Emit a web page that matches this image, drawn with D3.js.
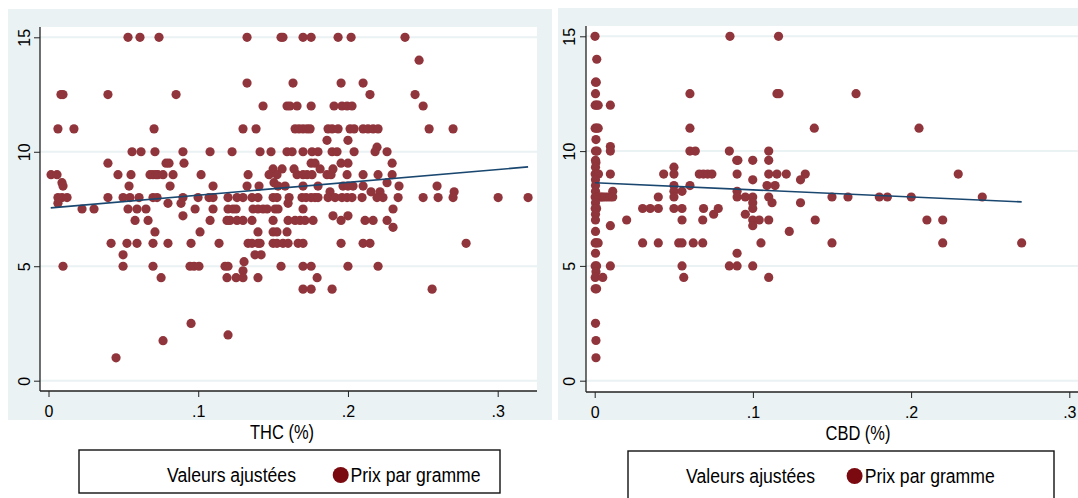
<!DOCTYPE html>
<html><head><meta charset="utf-8">
<script src="https://cdn.jsdelivr.net/npm/d3@7"></script>
<style>
body{margin:0;background:#fff}
svg{display:block}
text{font-family:"Liberation Sans Narrow","Arial Narrow","Liberation Sans",Arial,sans-serif;fill:#000}
</style>
</head><body>
<svg id="c" width="1078" height="498"></svg>
<script>
// ---------- data ----------
const priceTicks = [0, 5, 10, 15];
const xTicks = [0, 0.1, 0.2, 0.3];
const xTickLabels = ["0", ".1", ".2", ".3"];
const axisTitles = ["THC (%)", "CBD (%)"];
const legendLabels = ["Valeurs ajustées", "Prix par gramme"];

// THC panel: price levels and the THC share of every observation at that price
const thcLevels = [15, 14, 13, 12.5, 12, 11, 10.5, 10.2, 10, 9.5, 9.25, 9, 8.65, 8.5, 8.25, 8, 7.75, 7.5, 7.2, 7, 6.7, 6.5, 6, 5.5, 5.2, 5, 4.8, 4.5, 4, 2.5, 2, 1.75, 1];
const thcByLevel = [
  [0.0531, 0.0611, 0.0738, 0.1326, 0.1553, 0.1566, 0.17, 0.1754, 0.1934, 0.2021, 0.2381],
  [0.2475],
  [0.1326, 0.1633, 0.1954, 0.2101],
  [0.0083, 0.0097, 0.0397, 0.0852, 0.2147, 0.2448],
  [0.1433, 0.1593, 0.1613, 0.166, 0.1754, 0.1907, 0.196, 0.1994, 0.2027, 0.2502],
  [0.0063, 0.017, 0.0705, 0.1299, 0.1386, 0.1647, 0.1673, 0.17, 0.1727, 0.1747, 0.1867, 0.1894, 0.1934, 0.2014, 0.2041, 0.2101, 0.2134, 0.2168, 0.2201, 0.2542, 0.2702],
  [0.186, 0.2],
  [0.2194],
  [0.0558, 0.0618, 0.0711, 0.0898, 0.1079, 0.1226, 0.1413, 0.1486, 0.1593, 0.1627, 0.17, 0.176, 0.18, 0.1894, 0.1927, 0.2041, 0.2181, 0.2261],
  [0.0397, 0.0785, 0.0805, 0.0905, 0.1754, 0.178, 0.1954, 0.2, 0.2295],
  [0.15, 0.156, 0.164, 0.1814, 0.19],
  [0.0017, 0.0057, 0.0464, 0.0551, 0.0678, 0.0698, 0.0718, 0.0731, 0.0765, 0.0832, 0.1019, 0.1333, 0.1473, 0.1526, 0.166, 0.17, 0.1727, 0.176, 0.186, 0.1887, 0.1994, 0.2101, 0.2201, 0.2295],
  [0.009, 0.1506, 0.2261],
  [0.0097, 0.0538, 0.0812, 0.1099, 0.1326, 0.1406, 0.1533, 0.158, 0.17, 0.18, 0.1967, 0.2, 0.2034, 0.2101, 0.2341, 0.2595],
  [0.188, 0.2154, 0.2214, 0.2709],
  [0.0063, 0.009, 0.0124, 0.0397, 0.0498, 0.0544, 0.0605, 0.0698, 0.0725, 0.0898, 0.0999, 0.1072, 0.1099, 0.1199, 0.1259, 0.1299, 0.1359, 0.1399, 0.15, 0.1526, 0.1607, 0.1693, 0.172, 0.1754, 0.178, 0.18, 0.1867, 0.1914, 0.196, 0.1994, 0.2027, 0.2094, 0.2194, 0.2234, 0.2335, 0.2502, 0.2602, 0.2702, 0.3003, 0.3203],
  [0.0063, 0.0798, 0.0885, 0.16],
  [0.0224, 0.0304, 0.0531, 0.0591, 0.0651, 0.0979, 0.1099, 0.1199, 0.1232, 0.1253, 0.1366, 0.1399, 0.1433, 0.146, 0.1513, 0.1533, 0.17, 0.2301],
  [0.0898, 0.19, 0.2],
  [0.0578, 0.0665, 0.1079, 0.1192, 0.1212, 0.1259, 0.1299, 0.1359, 0.15, 0.16, 0.1647, 0.168, 0.1713, 0.1767, 0.1954, 0.2114, 0.2168, 0.2261],
  [0.2301],
  [0.0711, 0.1012, 0.1399, 0.15, 0.1526, 0.1593],
  [0.0418, 0.0524, 0.0591, 0.0698, 0.0798, 0.0952, 0.1139, 0.1333, 0.1359, 0.1399, 0.1413, 0.15, 0.1526, 0.1566, 0.16, 0.1667, 0.17, 0.1954, 0.2101, 0.2147, 0.2789],
  [0.0498, 0.1379, 0.142],
  [0.1306],
  [0.0097, 0.0498, 0.0698, 0.0945, 0.0972, 0.1005, 0.1179, 0.1199, 0.1553, 0.17, 0.1754, 0.2, 0.2201],
  [0.1299],
  [0.0752, 0.1192, 0.1253, 0.1299, 0.1399, 0.1794],
  [0.17, 0.1754, 0.1894, 0.2562],
  [0.0952],
  [0.1199],
  [0.0765],
  [0.0451]
];

// CBD panel
const cbdLevels = [15, 14, 13, 12.5, 12, 11, 10.5, 10.2, 10, 9.6, 9.5, 9.3, 9, 8.75, 8.5, 8.25, 8, 7.75, 7.5, 7.25, 7, 6.75, 6.5, 6, 5.55, 5, 4.75, 4.5, 4, 2.5, 1.75, 1];
const cbdByLevel = [
  [0.0002, 0.0855, 0.1162],
  [0.0013],
  [0.0005, 0.001],
  [0.0005, 0.0602, 0.1152, 0.1165, 0.1652],
  [0.0003, 0.0012, 0.0022, 0.0099],
  [0.0003, 0.0012, 0.0022, 0.0602, 0.1388, 0.205],
  [0.0008],
  [0.0099],
  [0.0005, 0.0015, 0.0099, 0.0602, 0.0636, 0.0851, 0.11],
  [0.0898, 0.0905, 0.0999, 0.11, 0.0005],
  [0.0008],
  [0.0005, 0.0501],
  [0.0003, 0.0012, 0.0024, 0.0099, 0.0436, 0.0501, 0.0661, 0.0687, 0.0714, 0.0741, 0.09, 0.11, 0.1152, 0.1211, 0.1331, 0.2298],
  [0.0005, 0.0999, 0.1301],
  [0.0005, 0.0501, 0.0602, 0.1089, 0.114],
  [0.0005, 0.0114, 0.0501, 0.0552, 0.09],
  [0.0003, 0.001, 0.002, 0.003, 0.004, 0.005, 0.0065, 0.0082, 0.0099, 0.0114, 0.0402, 0.0501, 0.09, 0.0952, 0.0999, 0.11, 0.15, 0.1601, 0.1799, 0.185, 0.2001, 0.245],
  [0.0005, 0.0999, 0.1121, 0.1301],
  [0.0003, 0.0012, 0.0303, 0.0351, 0.0402, 0.0501, 0.0552, 0.0688, 0.0781, 0.0999],
  [0.0005, 0.0752, 0.0952],
  [0.0005, 0.0202, 0.0552, 0.0683, 0.0999, 0.104, 0.11, 0.1394, 0.21, 0.22],
  [0.0099, 0.0999],
  [0.0005, 0.123],
  [0.0003, 0.001, 0.0022, 0.0303, 0.0402, 0.0531, 0.0552, 0.0623, 0.0683, 0.1051, 0.15, 0.22, 0.2699],
  [0.0005, 0.09],
  [0.0003, 0.0012, 0.0099, 0.0552, 0.0851, 0.09, 0.0999],
  [0.0008],
  [0.0003, 0.0051, 0.0563, 0.11],
  [0.0003, 0.0012],
  [0.0005],
  [0.0008],
  [0.0008]
];

// fitted lines (ends)
const thcFitX = [0.0015, 0.3203];
const thcFitY = [7.55, 9.34];
const cbdFitX = [0.0002, 0.2699];
const cbdFitY = [8.62, 7.79];

// ---------- drawing ----------
const svg = d3.select("#c");
const BG = "#eaf2f3", DOT = "#90353b", LINE = "#1a476f";

function flatten(levels, byLevel) {
  const pts = [];
  levels.forEach((p, i) => byLevel[i].forEach(x => pts.push({x, p})));
  return pts;
}

const panels = [
  {bg: [8, 9, 544, 411], plot: [40, 27, 537, 391], xr: [48.5, 497.7], yr: [380.7, 37.3],
   pts: flatten(thcLevels, thcByLevel), fx: thcFitX, fy: thcFitY, title: axisTitles[0], titleX: 282, titleY: 439, titleW: 64,
   ylabOff: 10,
   legend: {box: [79, 450, 421, 43], t1: 167, dot: 340.7, t2: 350.5, base: 482}},
  {bg: [558, 8, 540, 412], plot: [586, 26, 1100, 392], xr: [594.7, 1069.3], yr: [380.7, 36.3],
   pts: flatten(cbdLevels, cbdByLevel), fx: cbdFitX, fy: cbdFitY, title: axisTitles[1], titleX: 858, titleY: 440, titleW: 65,
   ylabOff: 11,
   legend: {box: [628, 451, 426, 60], t1: 686, dot: 854.6, t2: 864.7, base: 483}}
];

panels.forEach(P => {
  svg.append("rect").attr("x", P.bg[0]).attr("y", P.bg[1]).attr("width", P.bg[2]).attr("height", P.bg[3]).attr("fill", BG);
  const [l, t, r, b] = P.plot;
  svg.append("rect").attr("x", l).attr("y", t).attr("width", r - l).attr("height", b - t).attr("fill", "#fff");

  const x = d3.scaleLinear().domain([0, 0.3]).range(P.xr);
  const y = d3.scaleLinear().domain([0, 15]).range(P.yr);

  // grid
  svg.append("g").selectAll("line").data(priceTicks).join("line")
    .attr("x1", l).attr("x2", r).attr("y1", d => y(d)).attr("y2", d => y(d))
    .attr("stroke", BG).attr("stroke-width", 2);

  // points
  svg.append("g").selectAll("circle").data(P.pts).join("circle")
    .attr("cx", d => x(d.x)).attr("cy", d => y(d.p)).attr("r", 4.6).attr("fill", DOT);

  // fitted line
  svg.append("path")
    .datum(P.fx.map((v, i) => [v, P.fy[i]]))
    .attr("d", d3.line().x(d => x(d[0])).y(d => y(d[1])))
    .attr("fill", "none").attr("stroke", LINE).attr("stroke-width", 1.6);

  // y axis
  const ya = svg.append("g").attr("transform", `translate(${l},0)`)
    .call(d3.axisLeft(y).tickValues(priceTicks).tickSize(6).tickSizeOuter(0).tickFormat(d3.format("d")));
  ya.select(".domain").attr("d", `M0,${t}V${b}`).attr("stroke", "#222").attr("stroke-width", 1.3);
  ya.selectAll(".tick line").attr("stroke", "#222").attr("stroke-width", 1);
  ya.selectAll(".tick text").attr("transform", "rotate(-90)").attr("x", 0).attr("y", -P.ylabOff).attr("dy", 0)
    .attr("text-anchor", "middle").style("font-size", "16px").style("font-family", null);

  // x axis
  const xa = svg.append("g").attr("transform", `translate(0,${b})`)
    .call(d3.axisBottom(x).tickValues(xTicks).tickSize(6).tickSizeOuter(0).tickFormat((d, i) => xTickLabels[i]));
  xa.select(".domain").attr("d", `M${l},0H${r}`).attr("stroke", "#222").attr("stroke-width", 1.3);
  xa.selectAll(".tick line").attr("stroke", "#222").attr("stroke-width", 1);
  xa.selectAll(".tick text").attr("y", 26).attr("dy", 0).style("font-size", "16px").style("font-family", null);
  svg.selectAll(".tick text").attr("fill", "#000");

  // axis title
  svg.append("text").attr("x", P.titleX).attr("y", P.titleY).attr("text-anchor", "middle")
    .attr("textLength", P.titleW).attr("lengthAdjust", "spacingAndGlyphs")
    .style("font-size", "20px").text(P.title);

  // legend
  const L = P.legend;
  svg.append("rect").attr("x", L.box[0]).attr("y", L.box[1]).attr("width", L.box[2]).attr("height", L.box[3])
    .attr("fill", "#fff").attr("stroke", "#111").attr("stroke-width", 1.4);
  svg.append("text").attr("x", L.t1).attr("y", L.base).style("font-size", "20px")
    .attr("textLength", 129).attr("lengthAdjust", "spacingAndGlyphs").text(legendLabels[0]);
  svg.append("circle").attr("cx", L.dot).attr("cy", L.base - 7).attr("r", 8).attr("fill", "#7a0a0f");
  svg.append("text").attr("x", L.t2).attr("y", L.base).style("font-size", "20px")
    .attr("textLength", 130).attr("lengthAdjust", "spacingAndGlyphs").text(legendLabels[1]);
});
</script>
</body></html>
